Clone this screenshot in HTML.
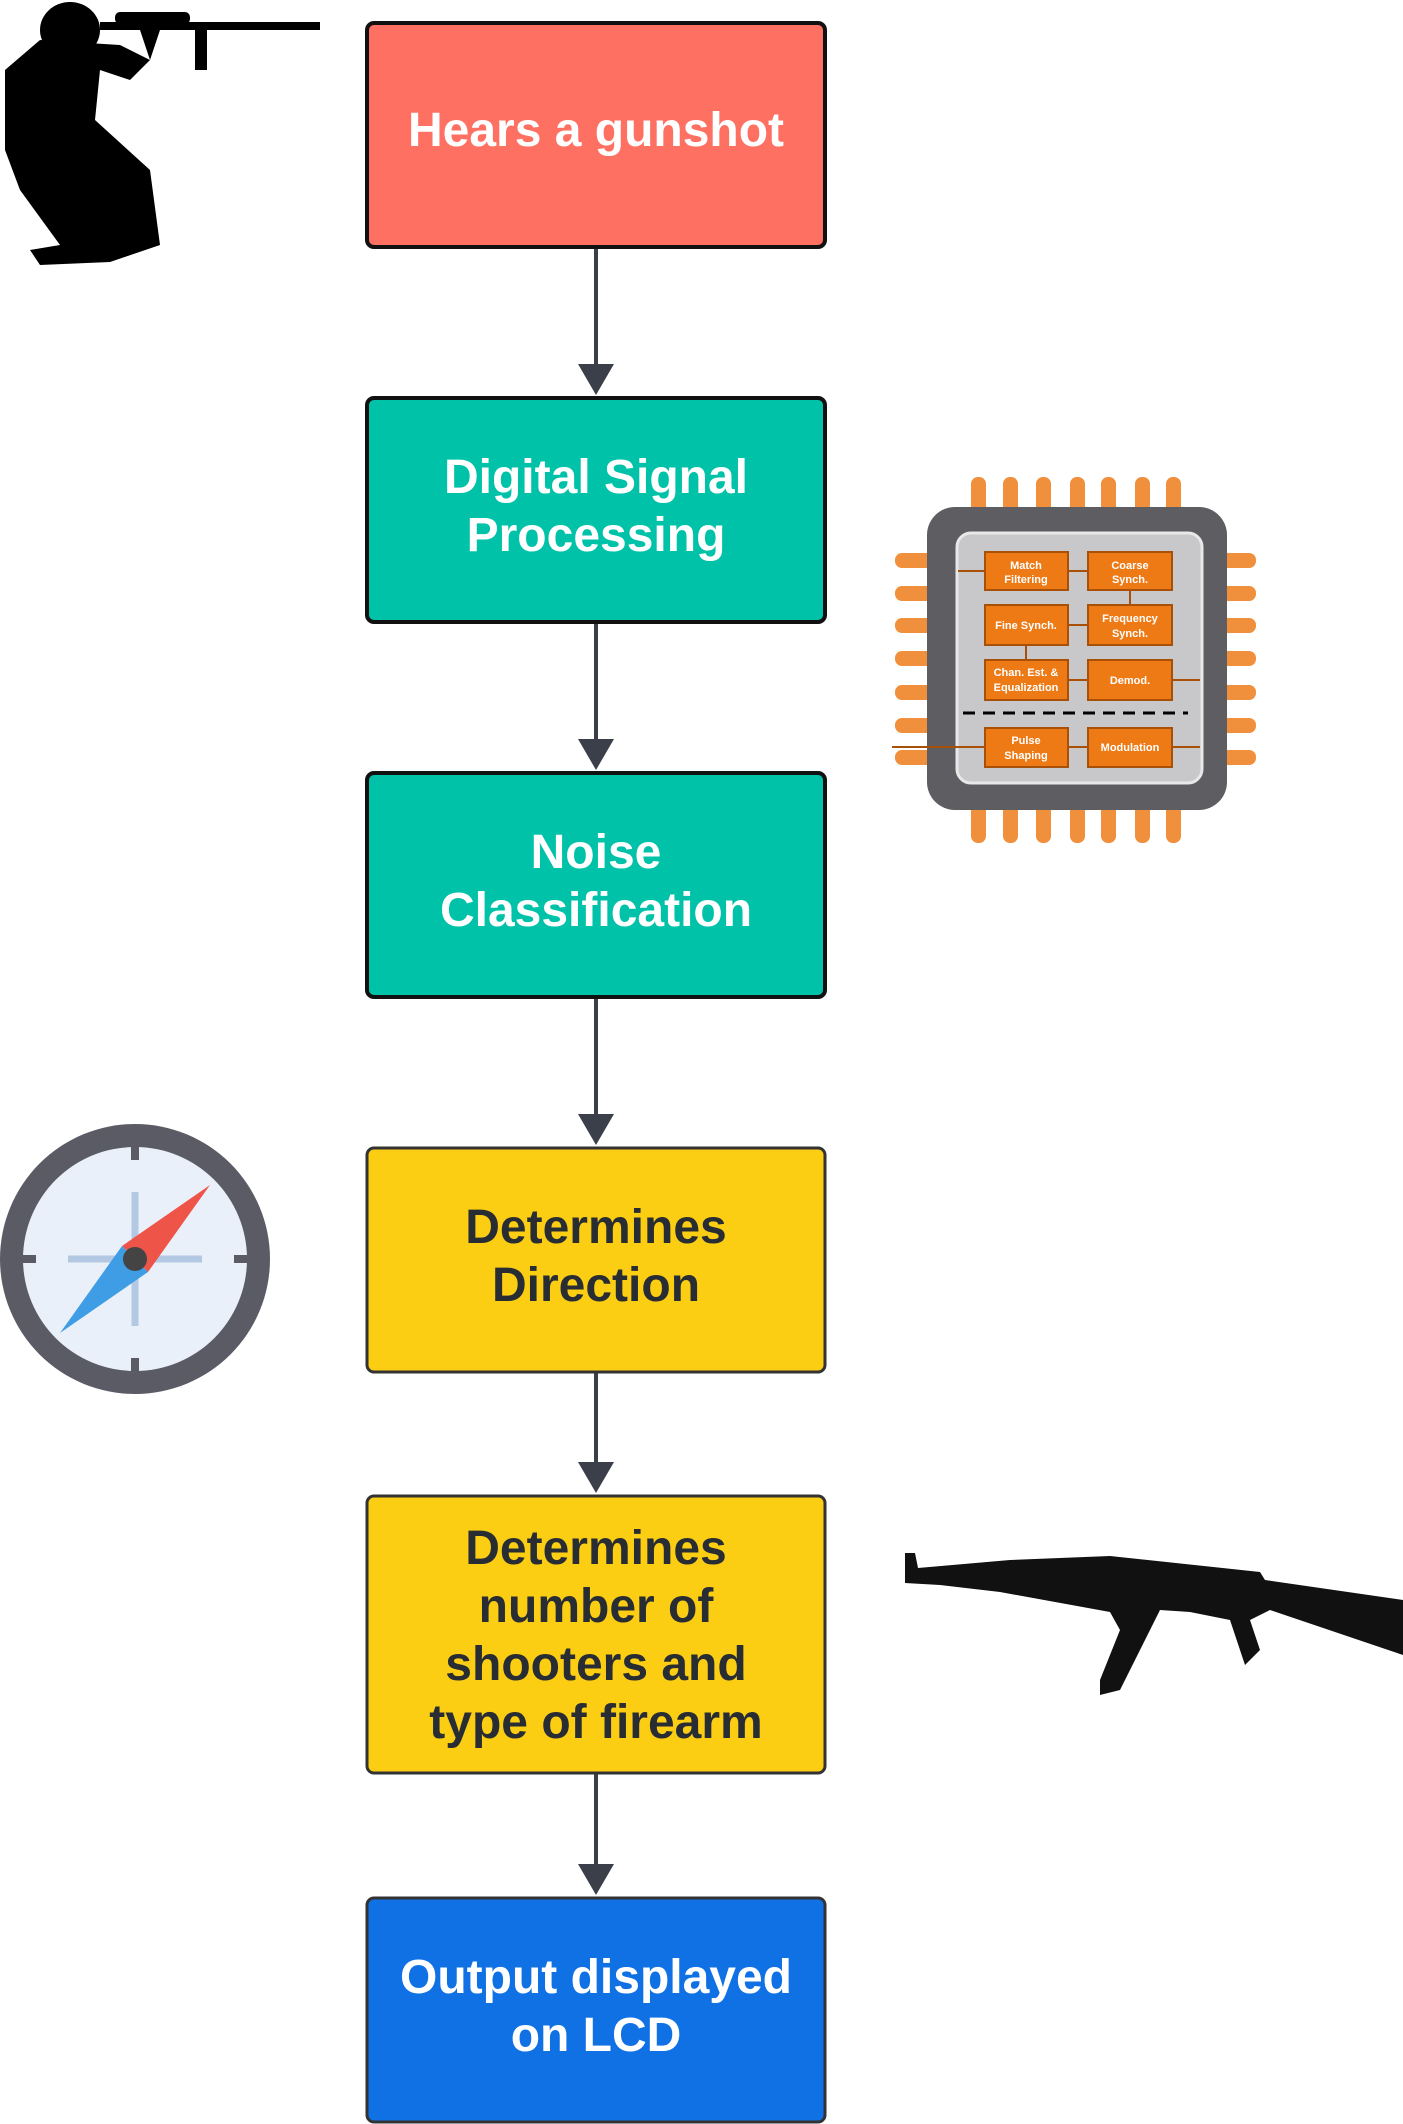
<!DOCTYPE html>
<html><head><meta charset="utf-8"><style>
html,body{margin:0;padding:0;background:#fff;}
svg{display:block;}
.t{font-family:"Liberation Sans",sans-serif;font-weight:bold;font-size:48px;text-anchor:middle;}
.c{font-family:"Liberation Sans",sans-serif;font-weight:bold;font-size:11px;fill:#fff;text-anchor:middle;}
</style></head><body>
<svg width="1403" height="2124" viewBox="0 0 1403 2124" xmlns="http://www.w3.org/2000/svg">
<g stroke="#3a3f4a" stroke-width="4" fill="#3a3f4a">
<line x1="596" y1="248" x2="596" y2="366"/><polygon points="578,364 614,364 596,395" stroke="none"/>
<line x1="596" y1="623" x2="596" y2="741"/><polygon points="578,739 614,739 596,770" stroke="none"/>
<line x1="596" y1="998" x2="596" y2="1116"/><polygon points="578,1114 614,1114 596,1145" stroke="none"/>
<line x1="596" y1="1372" x2="596" y2="1464"/><polygon points="578,1462 614,1462 596,1493" stroke="none"/>
<line x1="596" y1="1774" x2="596" y2="1866"/><polygon points="578,1864 614,1864 596,1895" stroke="none"/>
</g>
<g stroke="#111" stroke-width="4">
<rect x="367" y="23" width="458" height="224" rx="7" fill="#fe7062"/>
<rect x="367" y="398" width="458" height="224" rx="7" fill="#00c2a8"/>
<rect x="367" y="773" width="458" height="224" rx="7" fill="#00c2a8"/>
</g>
<g stroke="#333" stroke-width="3">
<rect x="367" y="1148" width="458" height="224" rx="7" fill="#fbce14"/>
<rect x="367" y="1496" width="458" height="277" rx="7" fill="#fbce14"/>
<rect x="367" y="1898" width="458" height="224" rx="7" fill="#1071e5"/>
</g>
<text class="t" x="596" y="146" fill="#fff">Hears a gunshot</text>
<text class="t" x="596" y="493" fill="#fff">Digital Signal</text>
<text class="t" x="596" y="551" fill="#fff">Processing</text>
<text class="t" x="596" y="868" fill="#fff">Noise</text>
<text class="t" x="596" y="926" fill="#fff">Classification</text>
<text class="t" x="596" y="1243" fill="#282c33">Determines</text>
<text class="t" x="596" y="1301" fill="#282c33">Direction</text>
<text class="t" x="596" y="1564" fill="#282c33">Determines</text>
<text class="t" x="596" y="1622" fill="#282c33">number of</text>
<text class="t" x="596" y="1680" fill="#282c33">shooters and</text>
<text class="t" x="596" y="1738" fill="#282c33">type of firearm</text>
<text class="t" x="596" y="1993" fill="#fff">Output displayed</text>
<text class="t" x="596" y="2051" fill="#fff">on LCD</text>
<g fill="#000">
<ellipse cx="70" cy="30" rx="30" ry="28"/>
<path d="M40,40 L120,45 L150,60 L130,80 L100,70 L95,120 L150,170 L160,245 L110,262 L40,265 L30,250 L60,245 L20,190 L5,150 L5,70 Z"/>
<rect x="100" y="22" width="220" height="8"/>
<rect x="115" y="12" width="75" height="12" rx="5"/>
<path d="M140,30 L160,30 L150,60 Z"/>
<rect x="195" y="30" width="12" height="40"/>
</g>
<g fill="#f0903c">
<rect x="971" y="477" width="15" height="38" rx="7"/><rect x="1003" y="477" width="15" height="38" rx="7"/><rect x="1036" y="477" width="15" height="38" rx="7"/><rect x="1070" y="477" width="15" height="38" rx="7"/><rect x="1101" y="477" width="15" height="38" rx="7"/><rect x="1135" y="477" width="15" height="38" rx="7"/><rect x="1166" y="477" width="15" height="38" rx="7"/>
<rect x="971" y="798" width="15" height="45" rx="7"/><rect x="1003" y="798" width="15" height="45" rx="7"/><rect x="1036" y="798" width="15" height="45" rx="7"/><rect x="1070" y="798" width="15" height="45" rx="7"/><rect x="1101" y="798" width="15" height="45" rx="7"/><rect x="1135" y="798" width="15" height="45" rx="7"/><rect x="1166" y="798" width="15" height="45" rx="7"/>
<rect x="895" y="553" width="50" height="15" rx="7"/><rect x="895" y="586" width="50" height="15" rx="7"/><rect x="895" y="618" width="50" height="15" rx="7"/><rect x="895" y="651" width="50" height="15" rx="7"/><rect x="895" y="685" width="50" height="15" rx="7"/><rect x="895" y="718" width="50" height="15" rx="7"/><rect x="895" y="750" width="50" height="15" rx="7"/>
<rect x="1208" y="553" width="48" height="15" rx="7"/><rect x="1208" y="586" width="48" height="15" rx="7"/><rect x="1208" y="618" width="48" height="15" rx="7"/><rect x="1208" y="651" width="48" height="15" rx="7"/><rect x="1208" y="685" width="48" height="15" rx="7"/><rect x="1208" y="718" width="48" height="15" rx="7"/><rect x="1208" y="750" width="48" height="15" rx="7"/>
</g>
<rect x="927" y="507" width="300" height="303" rx="28" fill="#5e5e62"/>
<rect x="957" y="533" width="245" height="250" rx="14" fill="#c8c8ca" stroke="#e8e8e8" stroke-width="3"/>
<g fill="#ee7a16" stroke="#a84f08" stroke-width="2">
<rect x="985" y="552" width="83" height="38"/><rect x="1088" y="552" width="84" height="38"/>
<rect x="985" y="605" width="83" height="40"/><rect x="1088" y="605" width="84" height="40"/>
<rect x="985" y="660" width="83" height="40"/><rect x="1088" y="660" width="84" height="40"/>
<rect x="985" y="728" width="83" height="39"/><rect x="1088" y="728" width="84" height="39"/>
</g>
<line x1="963" y1="713" x2="1188" y2="713" stroke="#000" stroke-width="3" stroke-dasharray="12,8"/>
<g stroke="#a84f08" stroke-width="2"><line x1="958" y1="571" x2="985" y2="571"/><line x1="1068" y1="571" x2="1088" y2="571"/><line x1="1130" y1="590" x2="1130" y2="605"/><line x1="1068" y1="625" x2="1088" y2="625"/><line x1="1026" y1="645" x2="1026" y2="660"/><line x1="1068" y1="680" x2="1088" y2="680"/><line x1="1172" y1="680" x2="1200" y2="680"/><line x1="1172" y1="747" x2="1200" y2="747"/><line x1="1068" y1="747" x2="1088" y2="747"/><line x1="892" y1="747" x2="985" y2="747"/></g>
<text class="c" x="1026" y="569">Match</text><text class="c" x="1026" y="583">Filtering</text>
<text class="c" x="1130" y="569">Coarse</text><text class="c" x="1130" y="583">Synch.</text>
<text class="c" x="1026" y="629">Fine Synch.</text>
<text class="c" x="1130" y="622">Frequency</text><text class="c" x="1130" y="637">Synch.</text>
<text class="c" x="1026" y="676">Chan. Est. &amp;</text><text class="c" x="1026" y="691">Equalization</text>
<text class="c" x="1130" y="684">Demod.</text>
<text class="c" x="1026" y="744">Pulse</text><text class="c" x="1026" y="759">Shaping</text>
<text class="c" x="1130" y="751">Modulation</text>
<circle cx="135" cy="1259" r="135" fill="#5b5b66"/>
<circle cx="135" cy="1259" r="112" fill="#eaf0fa"/>
<g stroke="#5b5b66" stroke-width="8"><line x1="135" y1="1147" x2="135" y2="1160"/><line x1="135" y1="1358" x2="135" y2="1371"/><line x1="23" y1="1259" x2="36" y2="1259"/><line x1="234" y1="1259" x2="247" y2="1259"/></g>
<g stroke="#b3c8e2" stroke-width="7"><line x1="135" y1="1192" x2="135" y2="1326"/><line x1="68" y1="1259" x2="202" y2="1259"/></g>
<polygon points="210,1185 148,1272 122,1246" fill="#ef5448"/>
<polygon points="60,1333 122,1246 148,1272" fill="#3f9de6"/>
<circle cx="135" cy="1259" r="12" fill="#444"/>
<g fill="#111">
<path d="M905,1553 L915,1553 L918,1568 L1010,1560 L1110,1556 L1260,1572 L1265,1580 L1403,1600 L1403,1655 L1270,1610 L1250,1620 L1260,1650 L1245,1665 L1230,1620 L1190,1612 L1160,1610 L1140,1650 L1120,1690 L1100,1695 L1100,1680 L1120,1630 L1110,1612 L1000,1592 L940,1585 L905,1583 Z"/>
</g>
</svg>
</body></html>
